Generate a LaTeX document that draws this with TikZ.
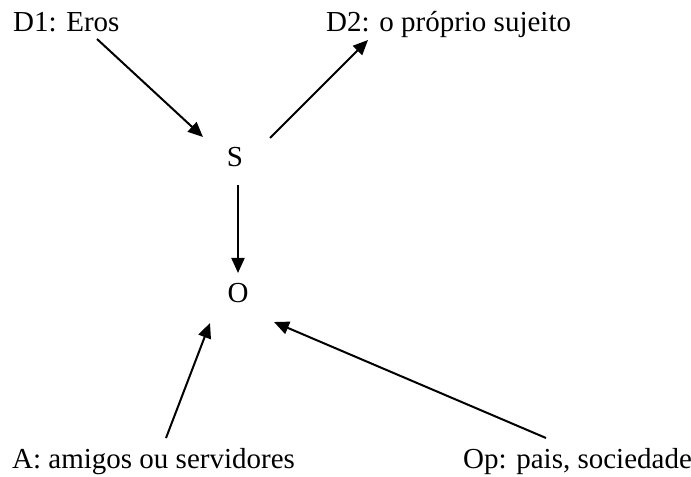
\documentclass[tikz,border=0pt]{standalone}
\usepackage{fontspec}
\setmainfont{Liberation Serif}
\usetikzlibrary{arrows.meta}
\begin{document}
\begin{tikzpicture}[x=1bp,y=-1bp,
  lbl/.style={inner sep=0pt,font=\fontsize{29bp}{34bp}\selectfont},
  arr/.style={line width=2bp,-{Triangle[length=15bp,width=13bp]}}]
\useasboundingbox (0,0) rectangle (691,477);
\node[lbl,anchor=base west] (d1) at (13,32) {D1: Eros};
\node[lbl,anchor=base west] (d2) at (326,32) {D2: o próprio sujeito};
\node[lbl,anchor=base] (s) at (235,167) {S};
\node[lbl,anchor=base] (o) at (238,302) {O};
\node[lbl,anchor=base west] (a) at (12,468) {A: amigos ou servidores};
\node[lbl,anchor=base west] (op) at (463,468) {Op: pais, sociedade};
\coordinate (d1s) at (97,39);
\coordinate (d1e) at (203,137);
\coordinate (d2s) at (270,138);
\coordinate (d2e) at (368,40);
\coordinate (so) at (238,185);
\coordinate (oe) at (238,273);
\coordinate (as) at (166,438);
\coordinate (ae) at (210,323);
\coordinate (ops) at (546,438);
\coordinate (ope) at (274,322);
\draw[arr] (d1s) -- (d1e);
\draw[arr] (d2s) -- (d2e);
\draw[arr] (so) -- (oe);
\draw[arr] (as) -- (ae);
\draw[arr] (ops) -- (ope);
\end{tikzpicture}
\end{document}
